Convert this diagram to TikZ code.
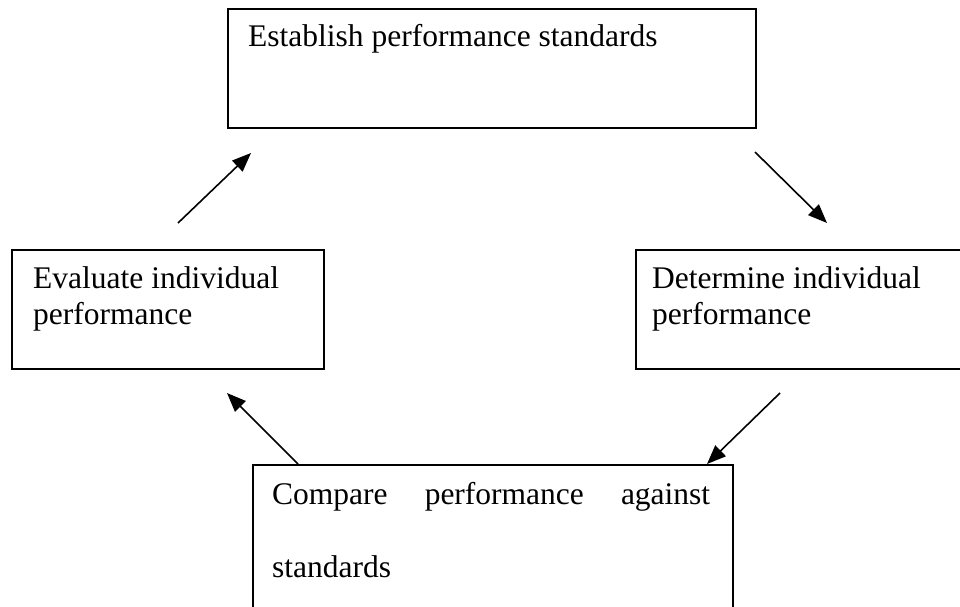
\documentclass[tikz,border=0pt]{standalone}
\usepackage{fontspec}
\setmainfont{Liberation Serif}
\usetikzlibrary{arrows.meta}
\begin{document}
\begin{tikzpicture}[x=1pt,y=-1pt,
  box/.style={draw=black,line width=2pt,fill=none,inner sep=0pt,anchor=north west},
  txt/.style={inner sep=0pt,anchor=base west,font=\fontsize{31.5pt}{36pt}\selectfont},
  arr/.style={line width=1.6pt,-{Triangle[length=19pt,width=15pt]}}]
\useasboundingbox (0,0) rectangle (960,607);
\clip (0,0) rectangle (960,607);
\fill[white] (0,0) rectangle (960,607);
% boxes
\node[box,minimum width=528pt,minimum height=119pt] (top) at (227,8) {};
\node[box,minimum width=312pt,minimum height=119pt] (left) at (11,249) {};
\node[box,minimum width=340pt,minimum height=119pt] (right) at (635,249) {};
\node[box,minimum width=480pt,minimum height=160pt] (bottom) at (252,464) {};
% texts
\node[txt] (ttop) at (248,47) {Establish performance standards};
\node[txt] (tleft1) at (33,288) {Evaluate individual};
\node[txt] (tleft2) at (33,324) {performance};
\node[txt] (tright1) at (652,288) {Determine individual};
\node[txt] (tright2) at (652,324) {performance};
\node[txt] (tbot1) at (272,504) {\makebox[438pt][s]{Compare performance against}};
\node[txt] (tbot2) at (272,577) {standards};
% arrow ends
\coordinate (a1s) at (178,223); \coordinate (a1e) at (251,153);
\coordinate (a2s) at (755,152); \coordinate (a2e) at (827,223);
\coordinate (a3s) at (780,393); \coordinate (a3e) at (707,464);
\coordinate (a4s) at (298,464); \coordinate (a4e) at (227,393);
\draw[arr] (a1s) -- (a1e);
\draw[arr] (a2s) -- (a2e);
\draw[arr] (a3s) -- (a3e);
\draw[arr] (a4s) -- (a4e);
\end{tikzpicture}
\end{document}
